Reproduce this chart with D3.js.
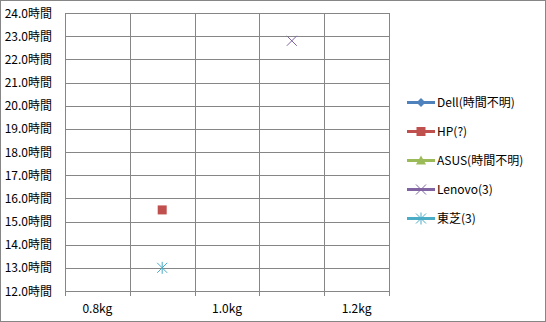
<!DOCTYPE html>
<html>
<head>
<meta charset="utf-8">
<script src="https://cdn.jsdelivr.net/npm/d3@7"></script>
<style>
body { margin: 0; background: #fff; }
text { font-family: "Noto Sans CJK JP", "Noto Sans", sans-serif; font-size: 12px; fill: #000; }
</style>
</head>
<body>
<script>
var w = 546;
var h = 322;

// series (null = no data)
var seriesNames = ["Dell(時間不明)", "HP(?)", "ASUS(時間不明)", "Lenovo(3)", "東芝(3)"];
var weights = [null, 0.9, null, 1.1, 0.9];
var hours = [null, 15.5, null, 22.8, 13.0];
var colors = ["#4F81BD", "#C0504D", "#9BBB59", "#8064A2", "#4BACC6"];
var markers = ["diamond", "square", "triangle", "x", "star"];

// axis
var xGrid = [0.75, 0.85, 0.95, 1.05, 1.15, 1.25];
var xLabels = [0.8, 1.0, 1.2];
var yTicks = [12, 13, 14, 15, 16, 17, 18, 19, 20, 21, 22, 23, 24];

// plot area (window.top is reserved, so use other names)
var plotLeft = 65, plotRight = 389, plotTop = 13, plotBottom = 291;

var xScale = d3.scaleLinear().domain([0.75, 1.25]).range([plotLeft, plotRight]);
var yScale = d3.scaleLinear().domain([12, 24]).range([plotBottom, plotTop]);

var svg = d3.select("body").append("svg")
    .attr("width", w)
    .attr("height", h);

// chart border
svg.append("rect")
    .attr("x", 0.5).attr("y", 0.5)
    .attr("width", w - 1).attr("height", h - 1)
    .attr("fill", "#fff")
    .attr("stroke", "#868686");

// horizontal grid
svg.append("g").selectAll("line")
    .data(yTicks)
    .enter().append("line")
    .attr("x1", plotLeft).attr("x2", plotRight + 1)
    .attr("y1", function(d) { return Math.round(yScale(d)) + 0.5; })
    .attr("y2", function(d) { return Math.round(yScale(d)) + 0.5; })
    .attr("stroke", "#868686");

// vertical grid (with ticks below)
svg.append("g").selectAll("line")
    .data(xGrid)
    .enter().append("line")
    .attr("x1", function(d) { return Math.round(xScale(d)) + 0.5; })
    .attr("x2", function(d) { return Math.round(xScale(d)) + 0.5; })
    .attr("y1", plotTop).attr("y2", plotBottom + 5)
    .attr("stroke", "#868686");

// y labels
svg.append("g").selectAll("text")
    .data(yTicks)
    .enter().append("text")
    .attr("x", 52)
    .attr("y", function(d) { return yScale(d) + 4.5; })
    .attr("text-anchor", "end")
    .text(function(d) { return d.toFixed(1) + "時間"; });

// x labels
svg.append("g").selectAll("text")
    .data(xLabels)
    .enter().append("text")
    .attr("x", function(d) { return xScale(d); })
    .attr("y", 313)
    .attr("text-anchor", "middle")
    .text(function(d) { return d.toFixed(1) + "kg"; });

function drawMarker(g, type, color) {
    if (type === "diamond") {
        g.append("path").attr("d", "M0,-4.5L4.5,0L0,4.5L-4.5,0Z").attr("fill", color);
    } else if (type === "square") {
        g.append("rect").attr("x", -4.5).attr("y", -4.5).attr("width", 9).attr("height", 9).attr("fill", color);
    } else if (type === "triangle") {
        g.append("path").attr("d", "M0,-5L5,4L-5,4Z").attr("fill", color);
    } else if (type === "x") {
        g.append("path").attr("d", "M-5,-5L5,5M-5,5L5,-5").attr("stroke", color).attr("stroke-width", 1).attr("fill", "none");
    } else if (type === "star") {
        g.append("path").attr("d", "M-5,-5L5,5M-5,5L5,-5M0,-6L0,6").attr("stroke", color).attr("stroke-width", 1).attr("fill", "none");
    }
}

// points
seriesNames.forEach(function(name, i) {
    if (weights[i] === null) return;
    var g = svg.append("g")
        .attr("transform", "translate(" + xScale(weights[i]) + "," + yScale(hours[i]) + ")");
    drawMarker(g, markers[i], colors[i]);
});

// legend
var legend = svg.append("g").selectAll("g")
    .data(seriesNames)
    .enter().append("g")
    .attr("transform", function(d, i) { return "translate(407," + (102.5 + i * 29) + ")"; });

legend.append("line")
    .attr("x1", 0).attr("x2", 28)
    .attr("stroke", function(d, i) { return colors[i]; })
    .attr("stroke-width", 3);

legend.each(function(d, i) {
    var g = d3.select(this).append("g").attr("transform", "translate(14,0)");
    drawMarker(g, markers[i], colors[i]);
});

legend.append("text")
    .attr("x", 30)
    .attr("y", 4.5)
    .text(function(d) { return d; });
</script>
</body>
</html>
